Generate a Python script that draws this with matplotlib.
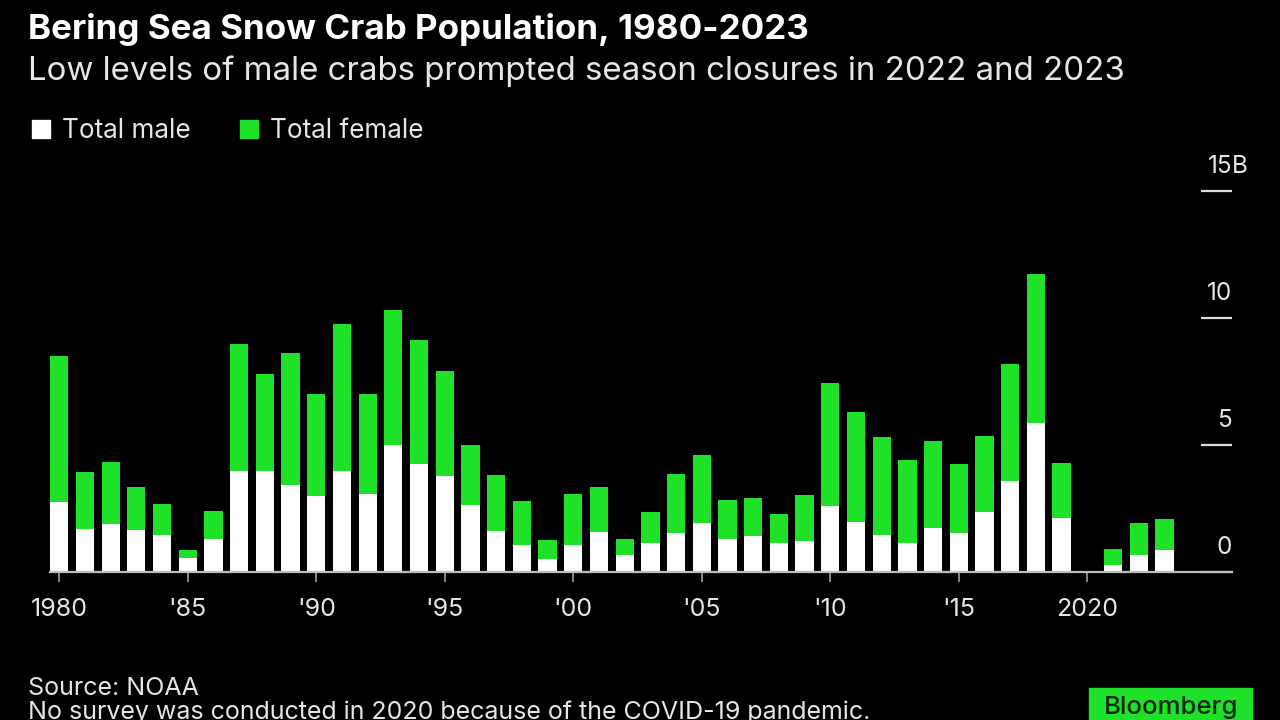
import matplotlib

matplotlib.use("Agg")
import matplotlib.pyplot as plt
import matplotlib.transforms as mtransforms
from matplotlib.patches import Rectangle

# Bering Sea snow crab abundance, billions; no 2020 survey
YEARS = [1980, 1981, 1982, 1983, 1984, 1985, 1986, 1987, 1988, 1989,
         1990, 1991, 1992, 1993, 1994, 1995, 1996, 1997, 1998, 1999,
         2000, 2001, 2002, 2003, 2004, 2005, 2006, 2007, 2008, 2009,
         2010, 2011, 2012, 2013, 2014, 2015, 2016, 2017, 2018, 2019,
         2021, 2022, 2023]
MALE = [2.76, 1.68, 1.90, 1.64, 1.47, 0.55, 1.28, 3.96, 3.96, 3.44,
        2.99, 3.96, 3.06, 4.99, 4.27, 3.78, 2.63, 1.61, 1.06, 0.50,
        1.06, 1.59, 0.67, 1.13, 1.54, 1.94, 1.31, 1.42, 1.13, 1.22,
        2.60, 1.98, 1.46, 1.13, 1.72, 1.55, 2.36, 3.58, 5.85, 2.14,
        0.28, 0.66, 0.87]
FEMALE = [5.74, 2.26, 2.43, 1.71, 1.22, 0.33, 1.11, 5.03, 3.85, 5.18,
          4.03, 5.82, 3.94, 5.34, 4.85, 4.12, 2.36, 2.20, 1.74, 0.75,
          2.02, 1.76, 0.62, 1.23, 2.32, 2.65, 1.53, 1.49, 1.14, 1.81,
          4.84, 4.32, 3.85, 3.27, 3.43, 2.71, 2.99, 4.60, 5.89, 2.14,
          0.64, 1.28, 1.20]
XTICKS = [1980, 1985, 1990, 1995, 2000, 2005, 2010, 2015, 2020]
XLABELS = ["1980", "'85", "'90", "'95", "'00", "'05", "'10", "'15", "2020"]
YTICKS = [0, 5, 10, 15]

BG, WHITE, GREEN, GREY, TXT = "#000000", "#ffffff", "#1fe12a", "#bdbdbd", "#e6e6e6"
FONT = ["Inter", "DejaVu Sans"]

plt.rcParams["font.family"] = FONT

fig = plt.figure(figsize=(12.8, 7.2), dpi=100, facecolor=BG)
ax = fig.add_axes([50 / 1280, 148 / 720, 1182 / 1280, 381 / 720], facecolor=BG)

ax.bar(YEARS, MALE, width=0.71, color=WHITE, linewidth=0)
ax.bar(YEARS, FEMALE, width=0.71, bottom=MALE, color=GREEN, linewidth=0)

ax.set_xlim(1979.64, 2025.63)
ax.set_ylim(0, 15)
for s in ("top", "left", "right"):
    ax.spines[s].set_visible(False)
ax.spines["bottom"].set_color(GREY)
ax.spines["bottom"].set_linewidth(1.6)

ax.set_xticks(XTICKS, XLABELS)
ax.tick_params(axis="x", length=7, width=1.4, color="#8a8a8a", pad=12,
               labelsize=18, labelcolor=TXT)
ax.set_yticks(YTICKS)
ax.tick_params(axis="y", left=False, right=True, direction="in", length=22.5,
               width=1.6, color="#dcdcdc", labelleft=False, labelright=False)

# y labels sit above the tick lines, right-aligned at the tick end
tr = mtransforms.blended_transform_factory(ax.transAxes, ax.transData)
for v in YTICKS:
    ax.annotate(str(v), xy=(1, v), xycoords=tr, xytext=(0, 13), textcoords="offset points",
                ha="right", va="baseline", fontsize=17.5, color=TXT)
ax.annotate("B", xy=(1, 15), xycoords=tr, xytext=(0, 13), textcoords="offset points",
            ha="left", va="baseline", fontsize=17.5, color=TXT)

# title block
fig.text(28 / 1280, 1 - 39 / 720, "Bering Sea Snow Crab Population, 1980-2023",
         fontsize=25.2, fontweight="bold", color=WHITE, va="baseline")
fig.text(28 / 1280, 1 - 80 / 720,
         "Low levels of male crabs prompted season closures in 2022 and 2023",
         fontsize=23.8, color=TXT, va="baseline")

# legend
for x0, col, lab in [(32, WHITE, "Total male"), (240, GREEN, "Total female")]:
    fig.patches.append(Rectangle((x0 / 1280, 1 - 138 / 720), 18 / 1280, 18 / 720,
                                 transform=fig.transFigure, color=col, figure=fig))
    fig.text((x0 + 30) / 1280, 1 - 138 / 720, lab, fontsize=18.8, color=TXT, va="baseline")

# footer (second line runs off the bottom edge, as in the source image)
fig.text(28 / 1280, 1 - 695 / 720, "Source: NOAA", fontsize=18, color=TXT, va="baseline")
fig.text(28 / 1280, 1 - 719 / 720,
         "No survey was conducted in 2020 because of the COVID-19 pandemic.",
         fontsize=18, color=TXT, va="baseline")
fig.patches.append(Rectangle((1089 / 1280, 0), 163 / 1280, 32 / 720,
                             transform=fig.transFigure, color=GREEN, figure=fig))
fig.text(1171 / 1280, 1 - 714 / 720, "Bloomberg", fontsize=18.5, fontweight="medium",
         color="#0b2a0b", ha="center", va="baseline")

fig.savefig("out.png", dpi=100, facecolor=BG)
